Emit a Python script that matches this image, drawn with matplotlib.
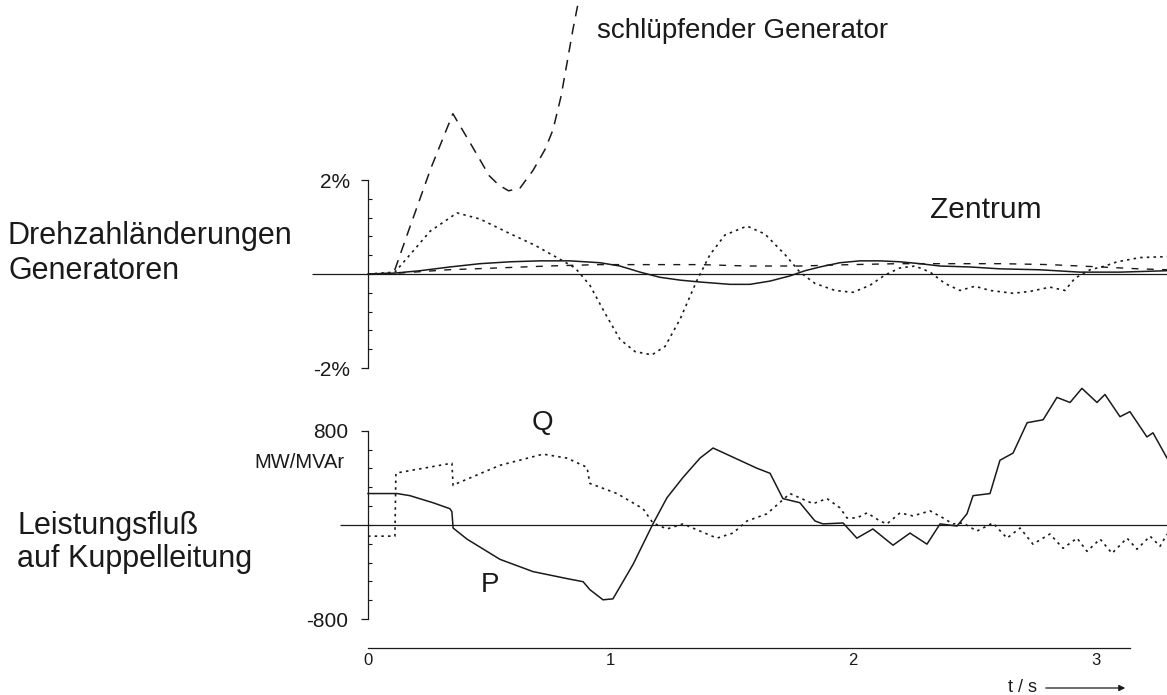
import numpy as np
import matplotlib
matplotlib.use("Agg")
import matplotlib.pyplot as plt
from matplotlib.patches import FancyArrowPatch

plt.rcParams['font.family'] = ['Liberation Sans', 'DejaVu Sans']

# %% data (t in s, speed deviation in %, power in MW/MVAr)

# top panel: Drehzahlaenderungen
slip_t = [0.11, 0.17, 0.26, 0.35, 0.42, 0.50, 0.54, 0.58, 0.627, 0.680, 0.730, 0.763, 0.796, 0.821, 0.845, 0.874, 0.887]
slip_v = [0.08, 0.96, 2.26, 3.41, 2.80, 2.09, 1.89, 1.77, 1.83, 2.20, 2.65, 3.07, 3.78, 4.50, 5.20, 5.96, 6.17]

dot_t = [0.0, 0.111, 0.173, 0.256, 0.367, 0.462, 0.573, 0.689, 0.779, 0.854, 0.915, 0.977, 1.039,
         1.101, 1.171, 1.225, 1.287, 1.357, 1.410, 1.472, 1.563, 1.637, 1.720, 1.781, 1.843, 1.926,
         2.000, 2.070, 2.132, 2.194, 2.256, 2.318, 2.379, 2.441, 2.503, 2.565, 2.660, 2.730, 2.812,
         2.874, 2.915, 2.977, 3.039, 3.089, 3.184, 3.295]
dot_v = [0.0, 0.04, 0.41, 0.91, 1.30, 1.17, 0.89, 0.61, 0.35, 0.13, -0.24, -0.83, -1.39,
         -1.65, -1.72, -1.54, -0.96, -0.13, 0.41, 0.83, 1.02, 0.85, 0.41, 0.04, -0.20, -0.35,
         -0.39, -0.24, -0.02, 0.13, 0.17, 0.04, -0.20, -0.35, -0.26, -0.35, -0.41, -0.37, -0.28,
         -0.35, -0.09, 0.09, 0.17, 0.26, 0.35, 0.37]

sol_t = [0.0, 0.111, 0.214, 0.338, 0.462, 0.586, 0.709, 0.833, 0.957, 1.039, 1.122, 1.204, 1.287,
         1.369, 1.493, 1.575, 1.658, 1.740, 1.802, 1.864, 1.946, 2.029, 2.111, 2.194, 2.276, 2.359,
         2.482, 2.606, 2.771, 2.936, 3.101, 3.295]
sol_v = [0.0, 0.02, 0.07, 0.15, 0.22, 0.26, 0.28, 0.28, 0.24, 0.17, 0.04, -0.07, -0.13,
         -0.17, -0.22, -0.22, -0.15, -0.04, 0.07, 0.15, 0.24, 0.28, 0.28, 0.26, 0.22, 0.17,
         0.15, 0.11, 0.09, 0.04, 0.04, 0.07]

dash_t = [0.0, 0.13, 0.33, 0.54, 0.74, 0.95, 1.16, 1.37, 1.57, 1.78, 1.99, 2.19, 2.40, 2.61, 2.81, 3.02, 3.18, 3.30]
dash_v = [0.0, 0.02, 0.09, 0.13, 0.17, 0.20, 0.20, 0.20, 0.17, 0.17, 0.20, 0.22, 0.22, 0.22, 0.20, 0.15, 0.11, 0.09]

# bottom panel: Leistungsfluss P (solid) und Q (dotted)
P_t = [0.0, 0.120, 0.173, 0.268, 0.338, 0.346, 0.351, 0.408, 0.544, 0.680, 0.821, 0.887, 0.915,
       0.969, 1.010, 1.093, 1.175, 1.233, 1.299, 1.369, 1.423, 1.505, 1.604, 1.658, 1.711, 1.781,
       1.843, 1.876, 1.959, 2.016, 2.082, 2.165, 2.235, 2.305, 2.359, 2.429, 2.470, 2.495, 2.565,
       2.606, 2.660, 2.718, 2.784, 2.841, 2.895, 2.944, 3.006, 3.039, 3.101, 3.142, 3.212, 3.237, 3.295]
P_v = [267, 267, 249, 189, 138, 112, -26, -120, -292, -396, -456, -482, -550,
       -636, -628, -335, 9, 232, 404, 568, 654, 576, 482, 439, 224, 189,
       34, 9, 17, -112, -34, -172, -69, -163, 9, -9, 95, 249, 267,
       550, 611, 869, 894, 1084, 1041, 1161, 1041, 1109, 920, 963, 748, 783, 568]

Q_t = [0.0, 0.111, 0.115, 0.132, 0.346, 0.351, 0.367, 0.544, 0.722, 0.821, 0.903, 0.915, 1.027,
       1.134, 1.175, 1.233, 1.299, 1.369, 1.439, 1.505, 1.563, 1.645, 1.740, 1.835, 1.893, 1.946,
       1.975, 2.016, 2.058, 2.111, 2.140, 2.194, 2.247, 2.318, 2.371, 2.412, 2.454, 2.511, 2.577,
       2.635, 2.689, 2.742, 2.812, 2.866, 2.924, 2.965, 3.019, 3.068, 3.130, 3.171, 3.225, 3.266, 3.295]
Q_v = [-95, -95, 439, 447, 525, 335, 353, 507, 602, 568, 490, 353, 267,
       138, 17, -34, 9, -52, -112, -69, 34, 95, 267, 181, 224, 146,
       60, 60, 103, 34, 9, 103, 77, 120, 60, 9, 17, -52, 17,
       -112, -26, -163, -77, -198, -112, -224, -120, -241, -112, -206, -95, -181, -77]

t_ticks = [0, 1, 2, 3]

# %% figure
W, H = 1167, 695
fx = lambda x: x / W
fy = lambda y: 1 - y / H
ink = '#1a1a1a'

fig = plt.figure(figsize=(W / 100, H / 100), dpi=100)
fig.patch.set_facecolor('white')

ax1 = fig.add_axes([0, fy(380), 1, 380 / H])
ax2 = fig.add_axes([0, 0, 1, fy(380)])
for ax in (ax1, ax2):
    ax.set_facecolor('none')
    ax.set_xlim(-1.5175, 3.2948)
    for s in ('top', 'right', 'bottom'):
        ax.spines[s].set_visible(False)
    ax.spines['left'].set_position(('data', 0))
    ax.spines['left'].set_color(ink)
    ax.spines['left'].set_linewidth(0.9)

ax1.set_ylim(-2.255, 5.83)
ax2.set_ylim(-1445, 1232)

# top panel
ax1.hlines(0, -0.231, 3.3, color=ink, lw=0.9)
ax1.plot(slip_t, slip_v, color=ink, lw=1.1, ls=(0, (7, 5)))
ax1.plot(dot_t, dot_v, color=ink, lw=1.2, ls=(0, (1.5, 2.5)))
ax1.plot(dash_t, dash_v, color=ink, lw=1.0, ls=(0, (5, 6)))
ax1.plot(sol_t, sol_v, color=ink, lw=1.1)

ax1.spines['left'].set_bounds(-2, 2)
ax1.set_xticks([])
ax1.set_yticks([-2, 2])
ax1.set_yticklabels(['-2%', '2%'])
ax1.set_yticks(np.arange(-2, 2.01, 0.4), minor=True)
ax1.tick_params(axis='y', which='major', direction='out', length=5, width=0.9,
                labelsize=15, colors=ink, pad=8)
ax1.tick_params(axis='y', which='minor', direction='in', length=3, width=0.8, colors=ink)

# bottom panel
ax2.hlines(0, -0.115, 3.3, color=ink, lw=0.9)
ax2.plot(Q_t, Q_v, color=ink, lw=1.2, ls=(0, (1.5, 2.5)))
ax2.plot(P_t, P_v, color=ink, lw=1.1)

ax2.spines['left'].set_bounds(-800, 800)
ax2.set_yticks([-800, 800])
ax2.set_yticklabels(['-800', '800'])
ax2.set_yticks(np.arange(-800, 801, 160), minor=True)
ax2.tick_params(axis='y', which='major', direction='out', length=5, width=0.9,
                labelsize=15, colors=ink, pad=9)
ax2.tick_params(axis='y', which='minor', direction='in', length=3, width=0.8, colors=ink)

# time axis
ax2.spines['bottom'].set_visible(True)
ax2.spines['bottom'].set_position(('data', -1045))
ax2.spines['bottom'].set_bounds(0, 3.142)
ax2.spines['bottom'].set_color(ink)
ax2.spines['bottom'].set_linewidth(0.9)
ax2.set_xticks(t_ticks)
ax2.set_xticklabels([str(t) for t in t_ticks])
ax2.set_xticks([0], minor=True)
ax2.tick_params(axis='x', which='major', length=0, labelsize=12, colors=ink, pad=4)
ax2.tick_params(axis='x', which='minor', direction='in', length=7, width=0.8, colors=ink)

# %% texts
fig.text(fx(8), fy(244), 'Drehzahländerungen', fontsize=22, color=ink, va='baseline')
fig.text(fx(8), fy(279), 'Generatoren', fontsize=22, color=ink, va='baseline')
fig.text(fx(17), fy(534), 'Leistungsfluß', fontsize=22, color=ink, va='baseline')
fig.text(fx(17), fy(567), 'auf Kuppelleitung', fontsize=22, color=ink, va='baseline')
fig.text(fx(597), fy(38), 'schlüpfender Generator', fontsize=20, color=ink, va='baseline')
fig.text(fx(930), fy(218), 'Zentrum', fontsize=21.5, color=ink, va='baseline')
fig.text(fx(542), fy(423), 'Q', fontsize=20, color=ink, va='center', ha='center')
fig.text(fx(490), fy(585), 'P', fontsize=20, color=ink, va='center', ha='center')
fig.text(fx(344), fy(463), 'MW/MVAr', fontsize=14.5, color=ink, va='center', ha='right')
fig.text(fx(1022), fy(688), 't / s', fontsize=13, color=ink, va='center', ha='center')
fig.patches.append(FancyArrowPatch(
    (fx(1043), fy(688)), (fx(1128), fy(688)), transform=fig.transFigure,
    arrowstyle='-|>', mutation_scale=9, color=ink, lw=0.9))

fig.savefig('out.png', dpi=100, facecolor='white')
